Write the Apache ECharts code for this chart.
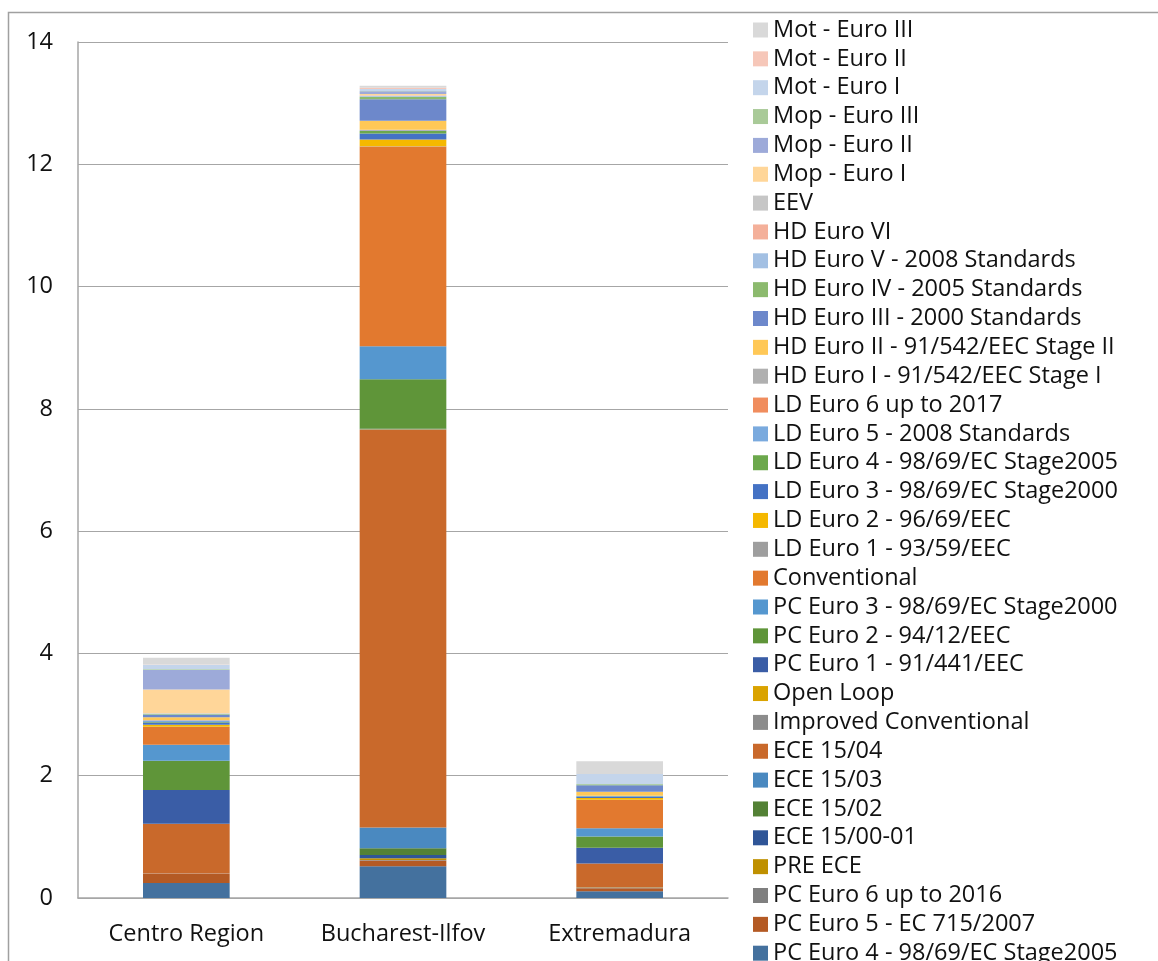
<!DOCTYPE html>
<html>
<head>
<meta charset="utf-8">
<script src="https://cdn.jsdelivr.net/npm/echarts@6/dist/echarts.min.js"></script>
<style>
  html, body { margin: 0; padding: 0; background: #fff; }
  #chart { width: 1158px; height: 961px; }
</style>
</head>
<body>
<div id="chart"></div>
<script>
// Categories
const categories = ['Centro Region', 'Bucharest-Ilfov', 'Extremadura'];

// Series names, bottom of stack -> top of stack
const seriesNames = [
  'PC Euro 4 - 98/69/EC Stage2005',
  'PC Euro 5 - EC 715/2007',
  'PC Euro 6 up to 2016',
  'PRE ECE',
  'ECE 15/00-01',
  'ECE 15/02',
  'ECE 15/03',
  'ECE 15/04',
  'Improved Conventional',
  'Open Loop',
  'PC Euro 1 - 91/441/EEC',
  'PC Euro 2 - 94/12/EEC',
  'PC Euro 3 - 98/69/EC Stage2000',
  'Conventional',
  'LD Euro 1 - 93/59/EEC',
  'LD Euro 2 - 96/69/EEC',
  'LD Euro 3 - 98/69/EC Stage2000',
  'LD Euro 4 - 98/69/EC Stage2005',
  'LD Euro 5 - 2008 Standards',
  'LD Euro 6 up to 2017',
  'HD Euro I - 91/542/EEC Stage I',
  'HD Euro II - 91/542/EEC Stage II',
  'HD Euro III - 2000 Standards',
  'HD Euro IV - 2005 Standards',
  'HD Euro V - 2008 Standards',
  'HD Euro VI',
  'EEV',
  'Mop - Euro I',
  'Mop - Euro II',
  'Mop - Euro III',
  'Mot - Euro I',
  'Mot - Euro II',
  'Mot - Euro III'
];

// Values per region, same order as seriesNames
const centroValues = [0.245, 0.15, 0.005, 0, 0, 0, 0, 0.81, 0.005, 0, 0.55, 0.48, 0.26, 0.29,
  0.005, 0.035, 0.035, 0.01, 0.02, 0.005, 0.005, 0.045, 0.04, 0.01, 0.01, 0, 0.005,
  0.39, 0.32, 0.01, 0.075, 0.005, 0.11];
const bucharestValues = [0.52, 0.093, 0.01, 0.027, 0.055, 0.11, 0.34, 6.5, 0.005, 0.005, 0.01, 0.81, 0.54, 3.265,
  0.005, 0.11, 0.1, 0.04, 0.01, 0.005, 0.005, 0.145, 0.355, 0.04, 0.01, 0.01, 0.005,
  0.02, 0.045, 0.005, 0.03, 0.02, 0.035];
const extremaduraValues = [0.11, 0.05, 0.01, 0.005, 0, 0, 0, 0.39, 0, 0, 0.256, 0.185, 0.136, 0.46,
  0.005, 0.027, 0.027, 0.005, 0.005, 0, 0, 0.065, 0.11, 0.015, 0, 0, 0,
  0, 0, 0, 0.165, 0, 0.21];

// Y axis ticks
const yMin = 0, yMax = 14, yInterval = 2;

// Colours (style), same order as seriesNames
const colors = [
  '#44719E', '#B45A24', '#7F7F7F', '#BF9000', '#2F5597', '#538135', '#4A89C0', '#C9692B',
  '#8C8C8C', '#DAA300', '#3A5DA6', '#5F9539', '#5597CF', '#E2792F', '#9E9E9E', '#F5B800',
  '#4472C4', '#6CA84C', '#7AAADE', '#F08D5E', '#B0B0B0', '#FFC857', '#6D88CB', '#8CBA6E',
  '#A3C0E3', '#F4B09A', '#C6C6C6', '#FFD699', '#9DAAD9', '#A9CA98', '#C4D5EB', '#F6C7B9', '#D9D9D9'
];

const FONT = '"Open Sans", "Noto Sans", sans-serif';
const FS = 23.5;

const series = seriesNames.map((name, i) => ({
  name: name,
  type: 'bar',
  stack: 'total',
  barWidth: '40%',
  data: [centroValues[i], bucharestValues[i], extremaduraValues[i]],
  itemStyle: { color: colors[i] },
  emphasis: { disabled: true },
  animation: false
}));

const chart = echarts.init(document.getElementById('chart'), null, { renderer: 'canvas' });
chart.setOption({
  animation: false,
  backgroundColor: '#fff',
  graphic: [{
    type: 'rect',
    shape: { x: 8.5, y: 12.5, width: 1400, height: 1200 },
    style: { fill: 'none', stroke: '#A0A0A0', lineWidth: 1.5 },
    silent: true
  }],
  grid: { left: 78, right: 430, top: 42, bottom: 63, containLabel: false },
  xAxis: {
    type: 'category',
    data: categories,
    axisLine: { show: true, lineStyle: { color: '#A6A6A6', width: 1.5 } },
    axisTick: { show: false },
    axisLabel: { fontFamily: FONT, fontSize: FS, color: '#111', margin: 24 }
  },
  yAxis: {
    type: 'value',
    min: yMin, max: yMax, interval: yInterval,
    axisLine: { show: true, lineStyle: { color: '#A6A6A6', width: 1.5 } },
    axisTick: { show: false },
    splitLine: { show: true, lineStyle: { color: '#A6A6A6', width: 1.2 } },
    axisLabel: { fontFamily: FONT, fontSize: FS, color: '#111', margin: 25 }
  },
  legend: {
    orient: 'vertical',
    left: 748,
    top: 13,
    height: 1200,
    itemWidth: 15,
    itemHeight: 15,
    itemGap: 4.85,
    icon: 'rect',
    selectedMode: false,
    data: seriesNames.slice().reverse(),
    textStyle: { fontFamily: FONT, fontSize: FS, color: '#111', lineHeight: 20 }
  },
  series: series
});
</script>
</body>
</html>
